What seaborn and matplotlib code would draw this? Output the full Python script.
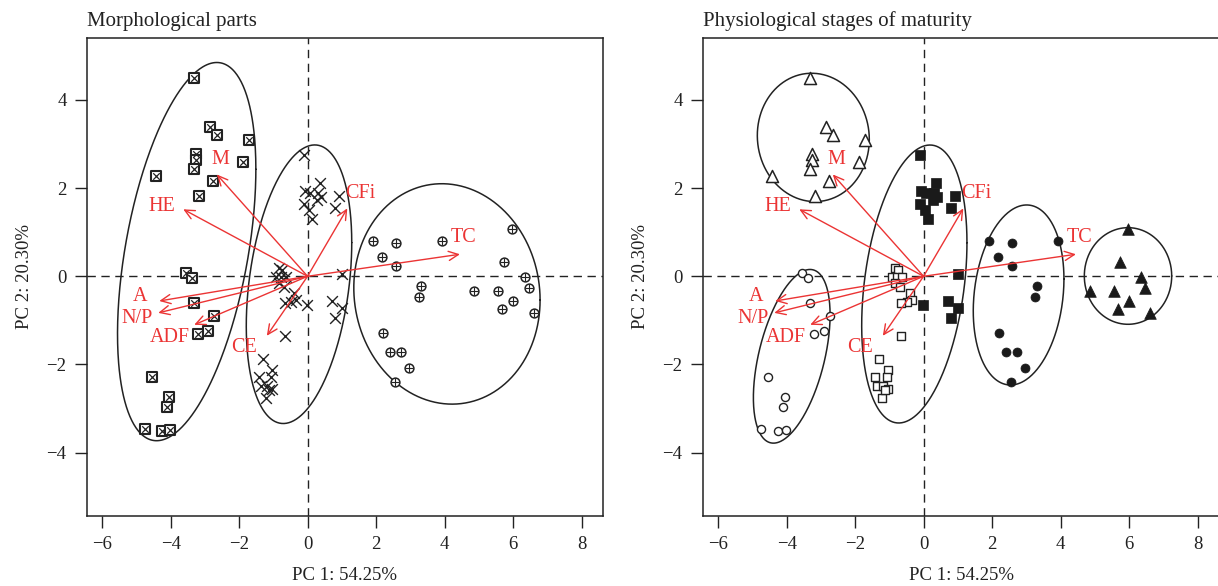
import numpy as np
import pandas as pd
import matplotlib
matplotlib.use("Agg")
import matplotlib.pyplot as plt
import seaborn as sns
from matplotlib.patches import FancyArrowPatch

# ---------------- data (PC scores) ----------------
open_tri_x = [-3.31, -2.84, -2.65, -1.70, -3.26, -3.26, -3.31, -1.89, -4.43, -2.77, -3.17]
open_tri_y = [4.49, 3.39, 3.21, 3.09, 2.77, 2.64, 2.43, 2.59, 2.28, 2.16, 1.82]

open_circ_x = [-3.55, -3.38, -3.32, -2.73, -3.21, -2.91, -4.55, -4.06, -4.11, -4.76, -4.25, -4.01]
open_circ_y = [0.07, -0.03, -0.60, -0.91, -1.32, -1.24, -2.28, -2.73, -2.97, -3.47, -3.51, -3.49]

open_sq_x = [-0.84, -0.74, -0.93, -0.79, -0.64, -0.84, -0.69, -0.40, -0.35, -0.49, -0.66,
             -0.66, -1.29, -1.03, -1.42, -1.08, -1.37, -1.18, -1.03, -1.22, -1.13]
open_sq_y = [0.18, 0.14, -0.01, -0.01, -0.01, -0.16, -0.24, -0.39, -0.54, -0.58, -0.61,
             -1.35, -1.88, -2.13, -2.28, -2.28, -2.50, -2.50, -2.56, -2.77, -2.58]

fill_sq_x = [-0.11, 0.36, -0.08, 0.07, 0.31, 0.38, 0.28, 0.92, -0.11, 0.04, 0.14, 0.80,
             1.01, 0.70, 1.01, 0.79, -0.02]
fill_sq_y = [2.76, 2.11, 1.94, 1.88, 1.90, 1.79, 1.72, 1.82, 1.63, 1.50, 1.29, 1.56,
             0.05, -0.57, -0.71, -0.94, -0.64]

fill_circ_x = [1.92, 2.57, 3.92, 2.16, 2.57, 3.30, 3.25, 2.21, 2.41, 2.72, 2.96, 2.54]
fill_circ_y = [0.81, 0.76, 0.81, 0.44, 0.23, -0.21, -0.48, -1.28, -1.72, -1.72, -2.07, -2.40]

fill_tri_x = [5.98, 5.75, 6.35, 4.86, 5.56, 6.48, 6.01, 5.68, 6.61]
fill_tri_y = [1.07, 0.33, -0.02, -0.33, -0.33, -0.27, -0.56, -0.75, -0.83]

stage_names = ["S1", "S2", "S3", "S4", "S5", "S6"]
stage_part = {"S1": "P1", "S2": "P1", "S3": "P2", "S4": "P2", "S5": "P3", "S6": "P3"}

# loadings (arrow tips) and their label positions
var_names = ["M", "HE", "A", "N/P", "ADF", "CE", "CFi", "TC"]
load_x = [-2.65, -3.63, -4.33, -4.36, -3.31, -1.19, 1.16, 4.45]
load_y = [2.31, 1.52, -0.56, -0.83, -1.10, -1.35, 1.54, 0.50]
lab_x = [-2.55, -4.26, -4.89, -4.99, -4.01, -1.85, 1.55, 4.55]
lab_y = [2.64, 1.59, -0.46, -0.95, -1.39, -1.62, 1.88, 0.88]

# group ellipses: centre, half x-extent, half y-extent, x offset of topmost point
ell_parts = {
    "P1": (-3.53, 0.56, 2.02, 4.29, 0.88),
    "P2": (-0.25, -0.18, 1.54, 3.16, 0.46),
    "P3": (4.07, -0.40, 2.72, 2.50, -0.15),
}
ell_stages = {
    "S1": (-3.22, 3.15, 1.635, 1.456, -0.05),
    "S2": (-3.85, -1.815, 1.12, 1.97, 0.534),
    "S34": (-0.27, -0.175, 1.537, 3.153, 0.457),
    "S5": (2.775, -0.424, 1.324, 2.042, 0.235),
    "S6": (5.97, 0.007, 1.276, 1.096, 0.0),
}

xs = [open_tri_x, open_circ_x, open_sq_x, fill_sq_x, fill_circ_x, fill_tri_x]
ys = [open_tri_y, open_circ_y, open_sq_y, fill_sq_y, fill_circ_y, fill_tri_y]
rows = []
for name, gx, gy in zip(stage_names, xs, ys):
    for a, b in zip(gx, gy):
        rows.append({"PC1": a, "PC2": b, "stage": name, "part": stage_part[name]})
df = pd.DataFrame(rows)

# ---------------- styling ----------------
sns.set_theme(style="ticks")
plt.rcParams["font.family"] = ["Liberation Serif", "DejaVu Serif"]
plt.rcParams["axes.unicode_minus"] = True
RED = "#EB3434"
INK = "#222222"

fig = plt.figure(figsize=(12.18, 5.86), dpi=100)
axL = fig.add_axes([0.07118, 0.11997, 0.42414, 0.81468])
axR = fig.add_axes([0.57693, 0.11997, 0.42414, 0.81468])


def draw_ellipse(ax, p):
    cx, cy, xh, yh, xo = p
    S = np.array([[xh ** 2, xo * yh], [xo * yh, yh ** 2]])
    L = np.linalg.cholesky(S)
    t = np.linspace(0, 2 * np.pi, 400)
    pts = L @ np.vstack([np.cos(t), np.sin(t)])
    ax.plot(cx + pts[0], cy + pts[1], color=INK, lw=1.1, zorder=2)


def base_axes(ax, title):
    ax.set_xlim(-6.45, 8.636)
    ax.set_ylim(-5.431, 5.399)
    ax.axhline(0, color=INK, lw=1.0, ls=(0, (6, 4)), zorder=1)
    ax.axvline(0, color=INK, lw=1.0, ls=(0, (6, 4)), zorder=1)
    ax.set_xticks([-6, -4, -2, 0, 2, 4, 6, 8])
    ax.set_yticks([-4, -2, 0, 2, 4])
    ax.tick_params(direction="out", length=8.5, width=1.0, pad=6, labelsize=13.5,
                   colors=INK)
    for sp in ax.spines.values():
        sp.set_visible(True)
        sp.set_linewidth(1.1)
        sp.set_color(INK)
    ax.set_title(title, loc="left", fontsize=15, pad=9, color=INK)


def draw_loadings(ax):
    for nm, tx, ty, lx, ly in zip(var_names, load_x, load_y, lab_x, lab_y):
        arr = FancyArrowPatch((0, 0), (tx, ty),
                              arrowstyle="->,head_length=0.7,head_width=0.33",
                              mutation_scale=10, color=RED, lw=1.0,
                              shrinkA=0, shrinkB=0, zorder=5)
        ax.add_patch(arr)
        ax.text(lx, ly, nm, color=RED, fontsize=14.5, ha="center", va="center", zorder=6)


def labels(ax):
    ax.set_xlabel("PC 1: 54.25%", fontsize=13.5, labelpad=10, color=INK)
    ax.set_ylabel("PC 2: 20.30%", fontsize=13.5, labelpad=10, color=INK)


# ---------------- left panel: morphological parts ----------------
base_axes(axL, "Morphological parts")
d1 = df[df.part == "P1"]
sns.scatterplot(data=d1, x="PC1", y="PC2", ax=axL, marker="s", s=42, color=INK,
                facecolor="white", edgecolor=INK, linewidth=1.5, zorder=3, legend=False)
sns.scatterplot(data=d1, x="PC1", y="PC2", ax=axL, marker="x", s=22, color=INK,
                linewidth=0.9, zorder=4, legend=False)
d2 = df[df.part == "P2"]
sns.scatterplot(data=d2, x="PC1", y="PC2", ax=axL, marker="x", s=60, color=INK,
                linewidth=1.0, zorder=3, legend=False)
d3 = df[df.part == "P3"]
sns.scatterplot(data=d3, x="PC1", y="PC2", ax=axL, marker="o", s=40, color=INK,
                facecolor="white", edgecolor=INK, linewidth=1.1, zorder=3, legend=False)
sns.scatterplot(data=d3, x="PC1", y="PC2", ax=axL, marker="+", s=40, color=INK,
                linewidth=0.8, zorder=4, legend=False)
for k, p in ell_parts.items():
    draw_ellipse(axL, p)
draw_loadings(axL)
labels(axL)

# ---------------- right panel: maturity stages ----------------
base_axes(axR, "Physiological stages of maturity")
styles = {
    "S1": dict(marker="^", s=75, facecolor="white", edgecolor=INK, linewidth=1.1),
    "S2": dict(marker="o", s=34, facecolor="white", edgecolor=INK, linewidth=1.0),
    "S3": dict(marker="s", s=38, facecolor="white", edgecolor=INK, linewidth=1.0),
    "S4": dict(marker="s", s=42, facecolor="#1a1a1a", edgecolor="#1a1a1a", linewidth=0.5),
    "S5": dict(marker="o", s=42, facecolor="#1a1a1a", edgecolor="#1a1a1a", linewidth=0.5),
    "S6": dict(marker="^", s=70, facecolor="#1a1a1a", edgecolor="#1a1a1a", linewidth=0.5),
}
for st in stage_names:
    sns.scatterplot(data=df[df.stage == st], x="PC1", y="PC2", ax=axR, color=INK,
                    zorder=3, legend=False, **styles[st])
for k, p in ell_stages.items():
    draw_ellipse(axR, p)
draw_loadings(axR)
labels(axR)

fig.savefig("out.png", dpi=100)
